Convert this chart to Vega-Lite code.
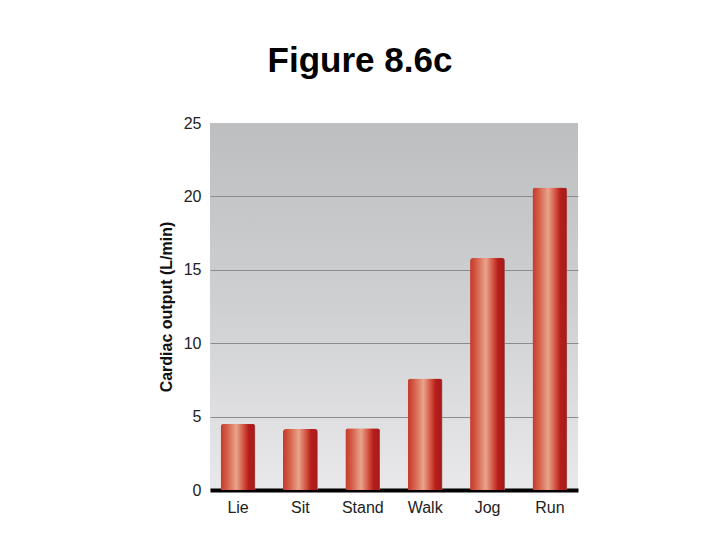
{
  "$schema": "https://vega.github.io/schema/vega-lite/v6.json",
  "autosize": "none",
  "width": 368,
  "height": 367,
  "padding": {"left": 210, "top": 123, "right": 142, "bottom": 50},
  "background": "white",
  "title": {
    "text": "Figure 8.6c",
    "font": "Liberation Sans",
    "fontSize": 35,
    "fontWeight": "bold",
    "color": "#000000",
    "anchor": "middle",
    "dx": -34,
    "offset": 36
  },
  "config": {
    "view": {
      "stroke": null,
      "fill": {
        "gradient": "linear",
        "x1": 0, "y1": 0, "x2": 0, "y2": 1,
        "stops": [
          {"offset": 0, "color": "#bdbebf"},
          {"offset": 0.5, "color": "#cfd0d2"},
          {"offset": 1, "color": "#e9e9eb"}
        ]
      }
    },
    "axis": {"labelFont": "Liberation Sans", "titleFont": "Liberation Sans"}
  },
  "data": {
    "values": [
      {"activity": "Lie", "output": 4.5},
      {"activity": "Sit", "output": 4.15},
      {"activity": "Stand", "output": 4.2},
      {"activity": "Walk", "output": 7.6},
      {"activity": "Jog", "output": 15.8},
      {"activity": "Run", "output": 20.6}
    ]
  },
  "mark": {
    "type": "bar",
    "cornerRadiusTopLeft": 3,
    "cornerRadiusTopRight": 3,
    "color": {
      "gradient": "linear",
      "x1": 0, "y1": 0, "x2": 1, "y2": 0,
      "stops": [
        {"offset": 0, "color": "#c23a2e"},
        {"offset": 0.15, "color": "#d2553f"},
        {"offset": 0.45, "color": "#e9a48b"},
        {"offset": 0.68, "color": "#d04a3a"},
        {"offset": 0.8, "color": "#b41f1c"},
        {"offset": 0.96, "color": "#aa1a1a"},
        {"offset": 1, "color": "#9a8a8a"}
      ]
    }
  },
  "encoding": {
    "x": {
      "field": "activity",
      "type": "nominal",
      "sort": null,
      "scale": {"paddingInner": 0.44, "paddingOuter": 0.17},
      "axis": {
        "title": null,
        "labelAngle": 0,
        "labelFontSize": 16,
        "labelColor": "#222222",
        "labelPadding": 9,
        "ticks": false,
        "domain": true,
        "domainColor": "#000000",
        "domainWidth": 4
      }
    },
    "y": {
      "field": "output",
      "type": "quantitative",
      "scale": {"domain": [0, 25]},
      "axis": {
        "title": "Cardiac output (L/min)",
        "titleFontSize": 16,
        "titleFontWeight": "bold",
        "titleColor": "#111111",
        "titlePadding": 9,
        "values": [0, 5, 10, 15, 20, 25],
        "labelFontSize": 16,
        "labelColor": "#222222",
        "labelPadding": 9,
        "domain": false,
        "ticks": false,
        "grid": true,
        "gridColor": "#8c8c8c",
        "gridWidth": 1,
        "gridOpacity": {"condition": {"test": "datum.value == 25 || datum.value == 0", "value": 0}, "value": 1}
      }
    }
  }
}
